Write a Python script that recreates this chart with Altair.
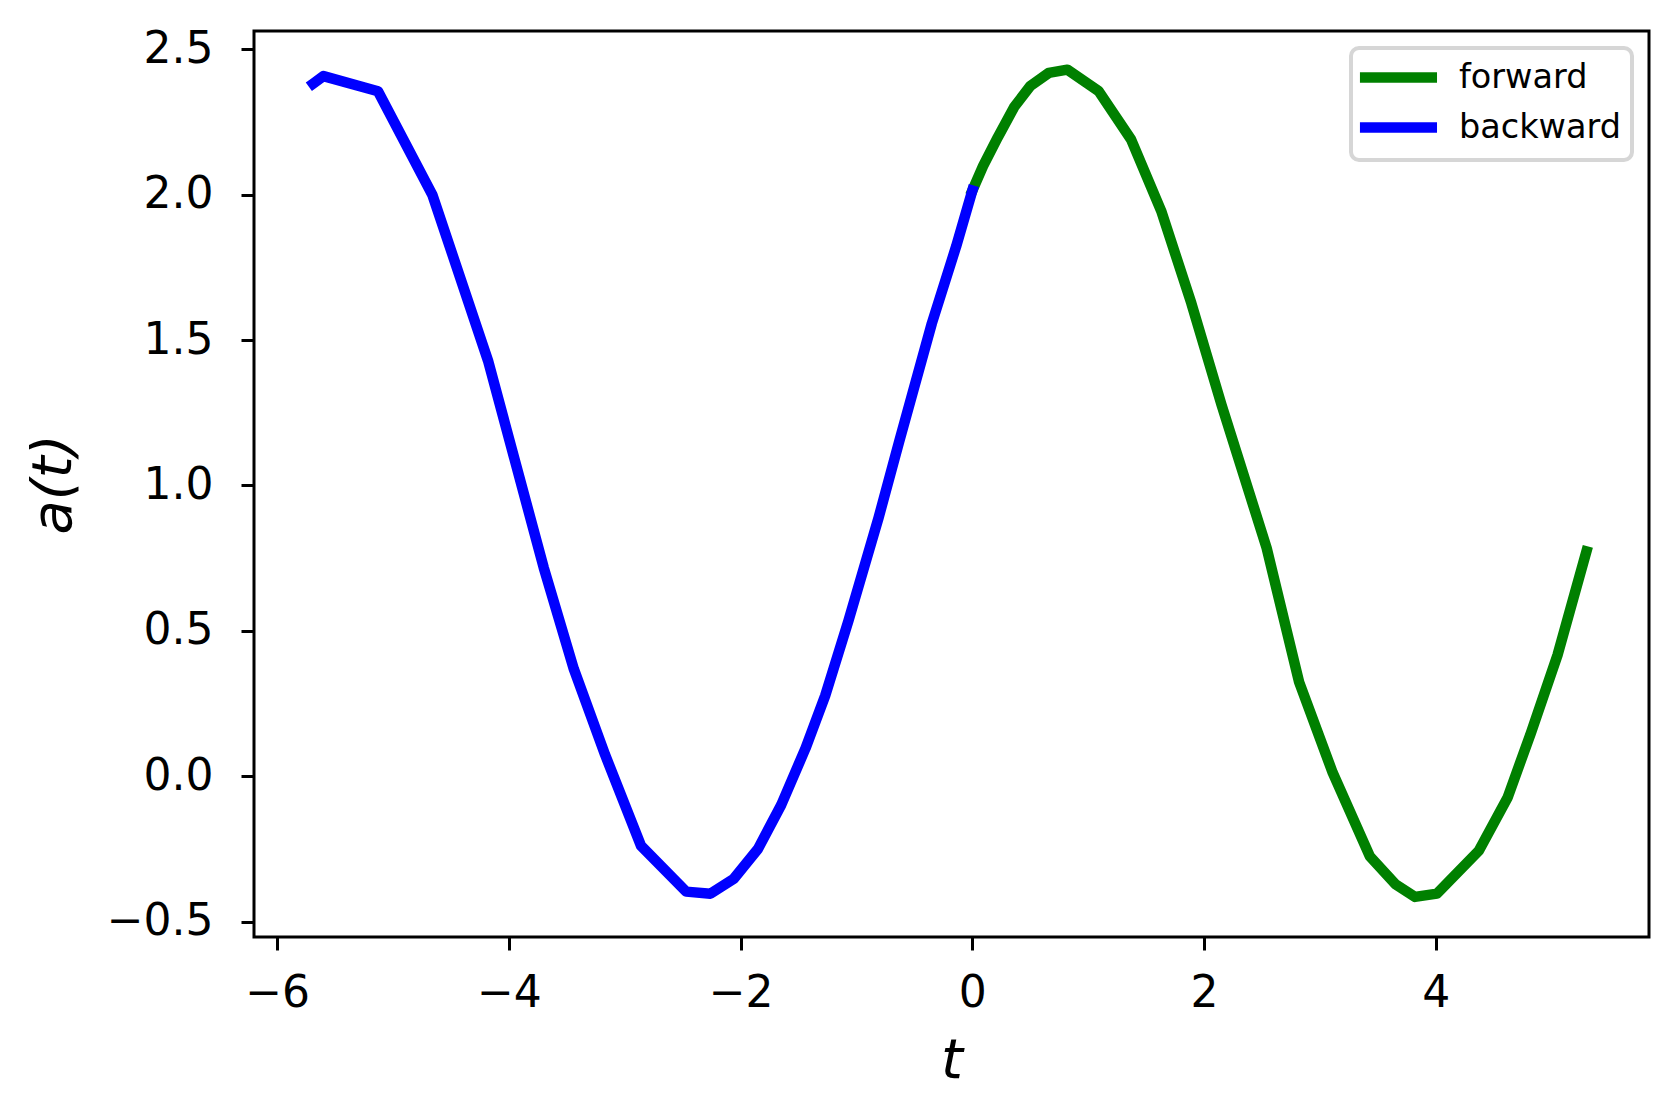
import altair as alt
import pandas as pd

# backward branch (t <= 0)
t_backward = [-5.69, -5.60, -5.13, -4.66, -4.18, -3.70, -3.44, -3.17, -2.86, -2.47, -2.26,
              -2.06, -1.85, -1.65, -1.44, -1.27, -1.07, -0.81, -0.63, -0.35, -0.14, 0.0]
a_backward = [2.382, 2.408, 2.356, 1.999, 1.429, 0.718, 0.369, 0.074, -0.239, -0.397, -0.404,
              -0.353, -0.250, -0.099, 0.096, 0.277, 0.534, 0.888, 1.153, 1.557, 1.822, 2.014]

# forward branch (t >= 0)
t_forward = [0.0, 0.092, 0.22, 0.36, 0.50, 0.66, 0.82, 1.09, 1.37, 1.63, 1.89, 2.15, 2.54,
             2.82, 3.11, 3.43, 3.65, 3.82, 4.01, 4.37, 4.62, 4.82, 5.05, 5.30]
a_forward = [2.014, 2.098, 2.198, 2.301, 2.374, 2.419, 2.430, 2.356, 2.190, 1.944, 1.627, 1.278,
             0.785, 0.324, 0.012, -0.275, -0.371, -0.415, -0.404, -0.257, -0.073, 0.148, 0.416, 0.773]

series_names = ["forward", "backward"]
series_colors = ["#008000", "#0000ff"]

x_ticks = [-6, -4, -2, 0, 2, 4]
y_ticks = [-0.5, 0.0, 0.5, 1.0, 1.5, 2.0, 2.5]

rows = []
for i, (t, a) in enumerate(zip(t_forward, a_forward)):
    rows.append({"t": t, "a": a, "series": "forward", "idx": i})
for i, (t, a) in enumerate(zip(t_backward, a_backward)):
    rows.append({"t": t, "a": a, "series": "backward", "idx": i})
df = pd.DataFrame(rows)

font = "DejaVu Sans"
lw = 10.5

chart = alt.Chart(df).mark_line(
    strokeWidth=lw, strokeJoin="round", strokeCap="square"
).encode(
    x=alt.X("t:Q",
            scale=alt.Scale(domain=[-6.2, 5.84], nice=False, zero=False),
            axis=alt.Axis(values=x_ticks, title="t", grid=False,
                          format="d",
                          labelExpr="replace(datum.label, '-', '\u2212')",
                          labelFontSize=44, labelFont=font, labelColor="black",
                          tickSize=13, tickWidth=3, tickColor="black",
                          domain=False, labelPadding=21,
                          titleFontSize=56, titleFont=font, titleFontStyle="italic",
                          titleFontWeight="normal", titleColor="black", titlePadding=18)),
    y=alt.Y("a:Q",
            scale=alt.Scale(domain=[-0.553, 2.563], nice=False, zero=False),
            axis=alt.Axis(values=y_ticks, title="a(t)", grid=False,
                          format=".1f",
                          labelExpr="replace(datum.label, '-', '\u2212')",
                          labelFontSize=44, labelFont=font, labelColor="black",
                          tickSize=13, tickWidth=3, tickColor="black",
                          domain=False, labelPadding=28,
                          titleFontSize=56, titleFont=font, titleFontStyle="italic",
                          titleFontWeight="normal", titleColor="black", titlePadding=24)),
    color=alt.Color("series:N",
                    scale=alt.Scale(domain=series_names, range=series_colors),
                    sort=series_names,
                    legend=alt.Legend(title=None, orient="none", legendX=1097, legendY=17,
                                      symbolType="M-1.6,0H4.4", symbolSize=660,
                                      symbolStrokeWidth=lw,
                                      labelFontSize=33.5, labelFont=font, labelColor="black",
                                      labelLimit=0,
                                      labelOffset=60, padding=11, rowPadding=7,
                                      strokeColor="#d6d6d6", fillColor="white",
                                      cornerRadius=8)),
    detail="series:N",
    order="idx:Q",
).properties(
    width=1395, height=906,
    padding={"left": 246, "top": 23, "right": 20, "bottom": 170},
    autosize="none",
).configure_view(
    stroke="black", strokeWidth=3
).configure_legend(
    strokeWidth=4
)

chart.save("out.html", embed_options={"renderer": "svg", "actions": False})
